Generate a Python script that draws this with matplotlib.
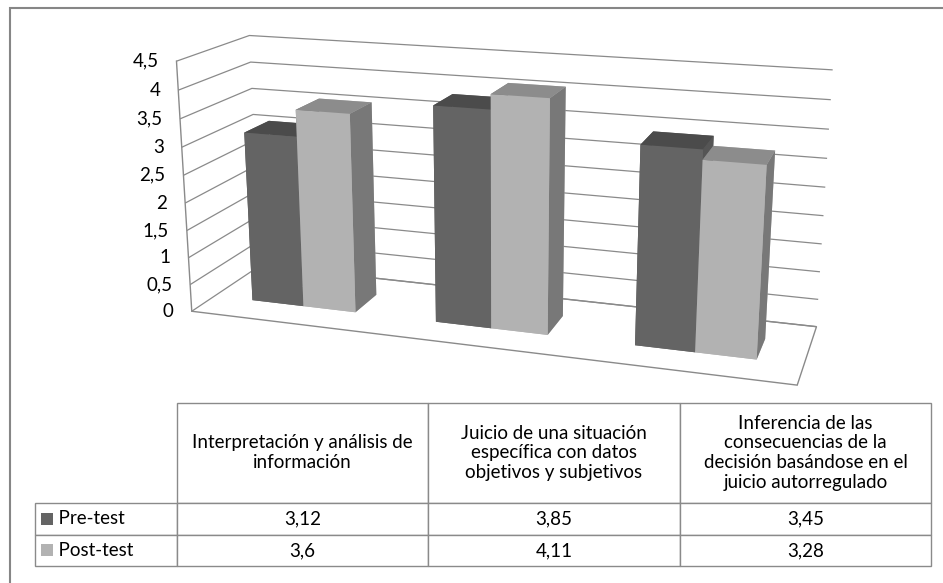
import numpy as np
import matplotlib
matplotlib.use("Agg")
import matplotlib.pyplot as plt
from matplotlib.patches import Rectangle
from matplotlib.table import Table
from mpl_toolkits.mplot3d import proj3d

plt.rcParams['font.family'] = ['Lato', 'DejaVu Sans']
plt.rcParams['grid.color'] = '#8a8a8a'
plt.rcParams['grid.linewidth'] = 0.9

# datos
categorias = ["Interpretación y análisis de\ninformación",
              "Juicio de una situación\nespecífica con datos\nobjetivos y subjetivos",
              "Inferencia de las\nconsecuencias de la\ndecisión basándose en el\njuicio autorregulado"]
series = ["Pre-test", "Post-test"]
pre_test = [3.12, 3.85, 3.45]
post_test = [3.6, 4.11, 3.28]
z_ticks = [0, 0.5, 1, 1.5, 2, 2.5, 3, 3.5, 4, 4.5]

# colores (abajo, arriba, frente, atras, izq, der)
col_pre = ['#646464', '#4b4b4b', '#646464', '#646464', '#555555', '#555555']
col_post = ['#b2b2b2', '#8c8c8c', '#b2b2b2', '#b2b2b2', '#787878', '#787878']
edge_gray = '#8a8a8a'
fs = 13.5

W, H = 943, 583
fig = plt.figure(figsize=(W / 100, H / 100), dpi=100)

# ejes 3D cuadrados y grandes para que nada quede fuera de la vista
S = 720
cx, cy = 490, 205
ax = fig.add_axes([(cx - S / 2) / W, 1 - (cy + S / 2) / H, S / W, S / H], projection='3d',
                  proj_type='persp', focal_length=0.38)
ax.view_init(elev=16, azim=-72, roll=0)

n = len(pre_test)
xmin, xmax = -0.5, n - 0.5
ymin, ymax = 0.0, 1.0
zmax = z_ticks[-1]
ax.set_xlim(xmin, xmax)
ax.set_ylim(ymin, ymax)
ax.set_zlim(0, zmax)
ax.set_box_aspect((3.0, 0.75, 1.27), zoom=0.935)

bw = 1 / 3.5      # ancho de barra (gap 150%)
bd = 0.36         # profundidad de barra
y0 = (1 - bd) / 2
x = np.arange(n)
for i in range(n):
    ax.bar3d(x[i] - bw, y0, 0, bw, bd, pre_test[i], color=col_pre, shade=False)
    ax.bar3d(x[i], y0, 0, bw, bd, post_test[i], color=col_post, shade=False)

# paredes y suelo
for a in (ax.xaxis, ax.yaxis, ax.zaxis):
    a.set_pane_color((1, 1, 1, 1))
    a.pane.set_edgecolor((1, 1, 1, 0))
    a.line.set_color((1, 1, 1, 0))
ax.zaxis.pane.set_edgecolor(edge_gray)
ax.zaxis.pane.set_linewidth(1.0)

ax.set_xticks([])
ax.set_yticks([])
ax.set_zticks(z_ticks)
ax.set_zticklabels([])
ax.zaxis.set_tick_params(color=(1, 1, 1, 0))

# borde frontal de la pared izquierda
ax.plot([xmin, xmin], [ymin, ymin], [0, zmax], color=edge_gray, lw=1.0)

# tabla de datos
axt = fig.add_axes([35 / W, 1 - 566 / H, 896 / W, 163 / H])
axt.set_axis_off()
tb = Table(axt, bbox=[0, 0, 1, 1])
col_w = [142, 251, 252, 251]
row_h = [99, 32, 31]
for j, c in enumerate(categorias):
    cell = tb.add_cell(0, j + 1, col_w[j + 1], row_h[0], text=c, loc='center')
    cell.get_text().set_linespacing(1.2)
valores = [pre_test, post_test]
for i, s in enumerate(series):
    tb.add_cell(i + 1, 0, col_w[0], row_h[i + 1], text="  " + s, loc='left')
    for j in range(n):
        tb.add_cell(i + 1, j + 1, col_w[j + 1], row_h[i + 1],
                    text=f"{valores[i][j]:g}".replace('.', ','), loc='center')
for cell in tb.get_celld().values():
    cell.set_edgecolor(edge_gray)
    cell.set_linewidth(1.0)
tb.auto_set_font_size(False)
tb.set_fontsize(fs)
axt.add_table(tb)

# muestras de la leyenda
tot_h = sum(row_h)
for i, c in enumerate([col_pre[0], col_post[0]]):
    yc = (sum(row_h[i + 2:]) + row_h[i + 1] / 2) / tot_h
    axt.add_patch(Rectangle((6 / 896, yc - 6 / 163), 12 / 896, 12 / 163,
                            transform=axt.transAxes, color=c, lw=0))

# borde del grafico
fig.patches.append(Rectangle((10 / W, -0.1), 1.0, 1.1 - 8 / H, transform=fig.transFigure,
                             fill=False, ec='#868686', lw=1.5))

# etiquetas del eje vertical, proyectadas con la vista 3D
fig.canvas.draw()
for v in z_ticks:
    px, py, _ = proj3d.proj_transform(xmin, ymin, v, ax.M)
    dx, dy = ax.transData.transform((px, py))
    fig.text((dx - 18) / W, dy / H, f"{v:g}".replace('.', ','), ha='right', va='center',
             fontsize=fs, color='black')

fig.savefig("out.png", dpi=100)
